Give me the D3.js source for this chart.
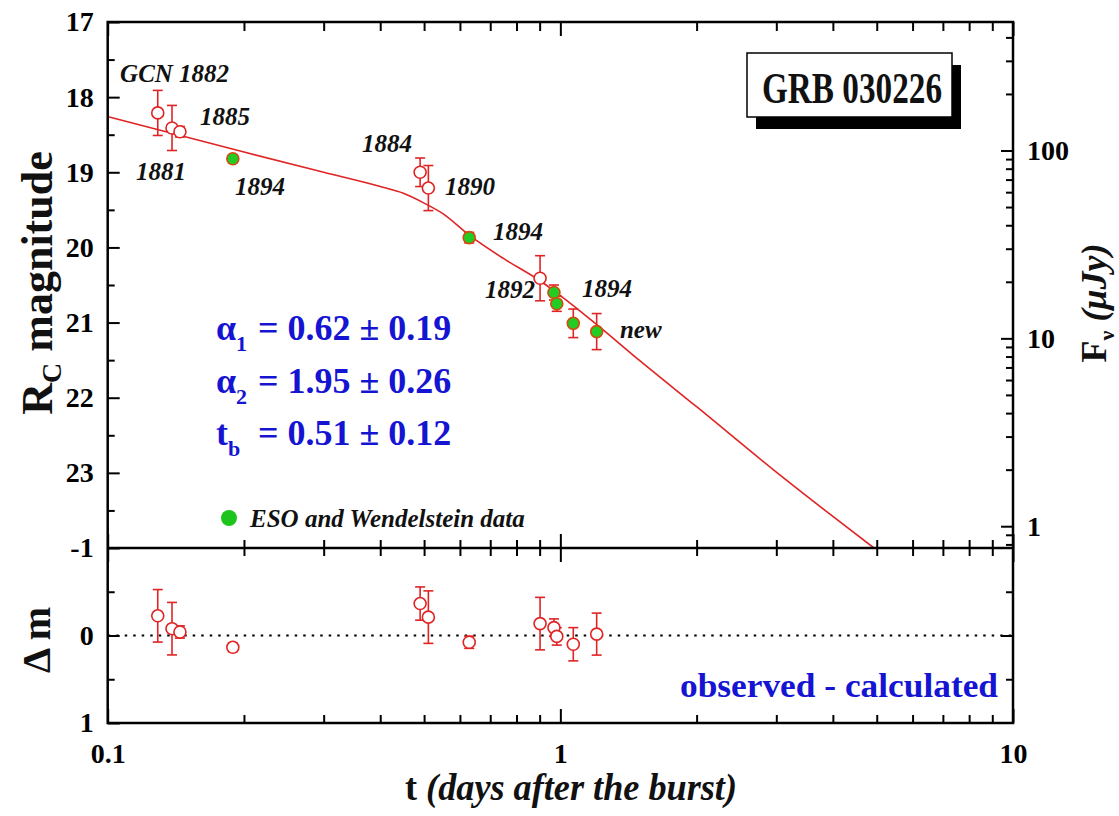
<!DOCTYPE html>
<html>
<head>
<meta charset="utf-8">
<script src="https://cdn.jsdelivr.net/npm/d3@7"></script>
<style>
  body { margin: 0; background: #fff; }
  svg { display: block; }
  text { font-family: 'Liberation Serif', 'Times New Roman', serif; font-weight: bold; }
</style>
</head>
<body>
<svg id="chart" width="1119" height="816"></svg>
<script>
// ---- Observations: time since burst (days), R_C magnitude, error ----
const tObs   = [0.129, 0.1387, 0.1444, 0.189, 0.490, 0.511, 0.629, 0.902, 0.968, 0.982, 1.068, 1.203];
const magObs = [18.21, 18.41, 18.46, 18.82, 19.00, 19.21, 19.87, 20.41, 20.60, 20.75, 21.01, 21.12];
const magErr = [0.30, 0.30, 0.07, 0.05, 0.19, 0.30, 0.07, 0.30, 0.10, 0.10, 0.19, 0.24];
// ESO / Wendelstein measurements are drawn filled green
const isEso  = [false, false, false, true, false, false, true, false, true, true, true, true];
// Residuals observed - calculated (mag)
const dMag   = [-0.225, -0.078, -0.04, 0.135, -0.365, -0.21, 0.077, -0.136, -0.09, 0.01, 0.10, -0.016];

// ---- Broken power-law fit, sampled ----
const fitT   = [0.1, 0.2, 0.3, 0.4, 0.45, 0.5, 0.55, 0.63, 0.75, 0.9, 1.0, 1.2, 1.5, 2.0, 3.0, 4.0, 4.93];
const fitMag = [18.26, 18.73, 19.00, 19.19, 19.28, 19.41, 19.55, 19.84, 20.15, 20.44, 20.64, 21.02, 21.51, 22.12, 22.99, 23.58, 24.0];

// ---- Source annotations (GCN circular numbers) ----
const noteText = ["GCN 1882", "1885", "1881", "1894", "1884", "1890", "1894", "1892", "1894", "new"];
const noteT    = [0.1065, 0.160, 0.1155, 0.191, 0.3646, 0.556, 0.710, 0.682, 1.116, 1.354];
const noteMag  = [17.80, 18.37, 19.10, 19.30, 18.73, 19.30, 19.90, 20.67, 20.66, 21.21];

// ---- Tick values and labels ----
const xMajor = [0.1, 1, 10];
const xMajorLabels = ["0.1", "1", "10"];
const xMinor = [0.2, 0.3, 0.4, 0.5, 0.6, 0.7, 0.8, 0.9, 2, 3, 4, 5, 6, 7, 8, 9];
const magMajor = [17, 18, 19, 20, 21, 22, 23];
const magMinor = [17.5, 18.5, 19.5, 20.5, 21.5, 22.5, 23.5];
const resMajor = [-1, 0, 1];
const resMajorLabels = ["-1", "0", "1"];
const resMinor = [-0.5, 0.5];
const fluxMajor = [1, 10, 100];
const fluxMajorLabels = ["1", "10", "100"];
const fluxMinor = [0.8, 0.9, 2, 3, 4, 5, 6, 7, 8, 9, 20, 30, 40, 50, 60, 70, 80, 90, 200, 300, 400];

const fitParams = [
  { sym: "\u03b1", sub: "1", val: "= 0.62 \u00b1 0.19" },
  { sym: "\u03b1", sub: "2", val: "= 1.95 \u00b1 0.26" },
  { sym: "t", sub: "b", val: "= 0.51 \u00b1 0.12" }
];

// ---- Layout ----
const L = 107.7, R = 1013, T = 22, MID = 548, B = 723;
const RED = "#e02424", GREEN = "#22cc22", BLUE = "#1414d2";
const ZP = 23.71; // R_C magnitude of 1 microJansky

const svg = d3.select("#chart");
svg.append("rect").attr("width", 1119).attr("height", 816).attr("fill", "#fff");

const x = d3.scaleLog().domain([0.1, 10]).range([L, R]);
const yMag = d3.scaleLinear().domain([17, 24]).range([T, MID]);
const yRes = d3.scaleLinear().domain([-1, 1]).range([MID, B]);
const yFlux = d3.scaleLog()
  .domain([Math.pow(10, (ZP - 17) / 2.5), Math.pow(10, (ZP - 24) / 2.5)])
  .range([T, MID]);

// Inward-pointing ticks, drawn with d3 axes
function ticks(axisGen, scale, vals, len, translate, labels, pad, fs) {
  const a = axisGen(scale).tickValues(vals).tickSizeInner(-len).tickSizeOuter(0)
    .tickPadding(pad || 0)
    .tickFormat(labels ? ((d, i) => labels[i]) : () => "");
  const g = svg.append("g").attr("transform", translate).call(a);
  g.select(".domain").remove();
  g.selectAll(".tick line").attr("stroke", "#000").attr("stroke-width", 2);
  g.selectAll(".tick text")
    .attr("fill", "#000")
    .style("font-family", "'Liberation Serif','Times New Roman',serif")
    .style("font-weight", "bold")
    .style("font-size", (fs || 28) + "px");
  return g;
}

// x ticks: top, both sides of the divider, bottom
ticks(d3.axisTop, x, xMajor, 14, `translate(0,${T})`);
ticks(d3.axisTop, x, xMinor, 9, `translate(0,${T})`);
ticks(d3.axisBottom, x, xMajor, 14, `translate(0,${MID})`);
ticks(d3.axisBottom, x, xMinor, 8, `translate(0,${MID})`);
ticks(d3.axisTop, x, xMajor, 14, `translate(0,${MID})`);
ticks(d3.axisTop, x, xMinor, 8, `translate(0,${MID})`);
ticks(d3.axisBottom, x, xMajor, 14, `translate(0,${B})`, xMajorLabels, 20, 28);
ticks(d3.axisBottom, x, xMinor, 8, `translate(0,${B})`);

// left magnitude axis
ticks(d3.axisLeft, yMag, magMajor, 12, `translate(${L},0)`, magMajor.map(String), 14, 28);
ticks(d3.axisLeft, yMag, magMinor, 7, `translate(${L},0)`);
// left residual axis
ticks(d3.axisLeft, yRes, resMajor, 12, `translate(${L},0)`, resMajorLabels, 14, 28);
ticks(d3.axisLeft, yRes, resMinor, 7, `translate(${L},0)`);
// right flux axis
ticks(d3.axisRight, yFlux, fluxMajor, 12, `translate(${R},0)`, fluxMajorLabels, 14, 28);
ticks(d3.axisRight, yFlux, fluxMinor, 7, `translate(${R},0)`);
// right residual axis
ticks(d3.axisRight, yRes, [0], 12, `translate(${R},0)`);
ticks(d3.axisRight, yRes, resMinor, 7, `translate(${R},0)`);

// zero line of residuals
svg.append("line")
  .attr("x1", L).attr("x2", R).attr("y1", yRes(0)).attr("y2", yRes(0))
  .attr("stroke", "#000").attr("stroke-width", 1.8).attr("stroke-dasharray", "2.5,6");

// fit curve
svg.append("clipPath").attr("id", "upper")
  .append("rect").attr("x", L).attr("y", T).attr("width", R - L).attr("height", MID - T);
svg.append("path")
  .datum(fitT.map((t, i) => [t, fitMag[i]]))
  .attr("clip-path", "url(#upper)")
  .attr("fill", "none").attr("stroke", RED).attr("stroke-width", 1.6)
  .attr("d", d3.line().x(d => x(d[0])).y(d => yMag(d[1])).curve(d3.curveMonotoneX));

// error bars with caps
function errorBars(yScale, vals) {
  const g = svg.append("g").attr("stroke", RED).attr("stroke-width", 1.6);
  tObs.forEach((t, i) => {
    const cx = x(t), y1 = yScale(vals[i] - magErr[i]), y2 = yScale(vals[i] + magErr[i]);
    g.append("line").attr("x1", cx).attr("x2", cx).attr("y1", y1).attr("y2", y2);
    g.append("line").attr("x1", cx - 5).attr("x2", cx + 5).attr("y1", y1).attr("y2", y1);
    g.append("line").attr("x1", cx - 5).attr("x2", cx + 5).attr("y1", y2).attr("y2", y2);
  });
}
errorBars(yMag, magObs);
errorBars(yRes, dMag);

// light curve markers
svg.append("g").selectAll("circle").data(tObs).join("circle")
  .attr("cx", d => x(d)).attr("cy", (d, i) => yMag(magObs[i])).attr("r", 6)
  .attr("fill", (d, i) => isEso[i] ? GREEN : "#fff")
  .attr("stroke", (d, i) => isEso[i] ? "#d44a10" : RED)
  .attr("stroke-width", 1.6);

// residual markers
svg.append("g").selectAll("circle").data(tObs).join("circle")
  .attr("cx", d => x(d)).attr("cy", (d, i) => yRes(dMag[i])).attr("r", 6)
  .attr("fill", "#fff").attr("stroke", RED).attr("stroke-width", 1.6);

// frames
svg.append("rect").attr("x", L).attr("y", T).attr("width", R - L).attr("height", B - T)
  .attr("fill", "none").attr("stroke", "#000").attr("stroke-width", 2.5);
svg.append("line").attr("x1", L).attr("x2", R).attr("y1", MID).attr("y2", MID)
  .attr("stroke", "#000").attr("stroke-width", 2.5);

// GCN annotations
svg.append("g").selectAll("text").data(noteText).join("text")
  .attr("x", (d, i) => x(noteT[i])).attr("y", (d, i) => yMag(noteMag[i]))
  .attr("font-size", 25).attr("font-style", "italic").attr("fill", "#111")
  .text(d => d);

// fit parameters
const pg = svg.append("g").attr("fill", BLUE);
fitParams.forEach((p, i) => {
  const by = 340 + i * 52.5;
  const t = pg.append("text").attr("x", 216).attr("y", by).attr("font-size", 36);
  t.append("tspan").text(p.sym);
  t.append("tspan").attr("dy", 11).attr("font-size", 22).text(p.sub);
  pg.append("text").attr("x", 258).attr("y", by).attr("font-size", 36).text(p.val);
});

// legend
svg.append("circle").attr("cx", 229).attr("cy", 518).attr("r", 8).attr("fill", "#1cc41c");
svg.append("text").attr("x", 250).attr("y", 527).attr("font-size", 25)
  .attr("font-style", "italic").attr("fill", "#111").text("ESO and Wendelstein data");

// GRB label box with drop shadow
svg.append("rect").attr("x", 756).attr("y", 65).attr("width", 205).attr("height", 64).attr("fill", "#000");
svg.append("rect").attr("x", 747).attr("y", 53).attr("width", 205).attr("height", 64)
  .attr("fill", "#fff").attr("stroke", "#000").attr("stroke-width", 1.5);
svg.append("text").attr("x", 762).attr("y", 103).attr("font-size", 44)
  .attr("textLength", 180).attr("lengthAdjust", "spacingAndGlyphs").attr("fill", "#111")
  .text("GRB 030226");

// residual panel caption
svg.append("text").attr("x", 680).attr("y", 697).attr("font-size", 33)
  .attr("textLength", 318).attr("lengthAdjust", "spacingAndGlyphs").attr("fill", BLUE)
  .text("observed - calculated");

// axis titles
const yt = svg.append("text").attr("transform", "translate(52,283) rotate(-90)")
  .attr("text-anchor", "middle").attr("font-size", 44).attr("fill", "#111");
yt.append("tspan").text("R");
yt.append("tspan").attr("dy", 9).attr("font-size", 28).text("C");
yt.append("tspan").attr("dy", -9).text(" magnitude");

svg.append("text").attr("transform", "translate(50,640) rotate(-90)")
  .attr("text-anchor", "middle").attr("font-size", 40).attr("fill", "#111").text("\u0394 m");

const ft = svg.append("text").attr("transform", "translate(1106,303) rotate(-90)")
  .attr("text-anchor", "middle").attr("font-size", 36).attr("fill", "#111");
ft.append("tspan").text("F");
ft.append("tspan").attr("dy", 8).attr("font-size", 22).text("\u03bd");
ft.append("tspan").attr("dy", -8).attr("font-style", "italic").text(" (\u03bcJy)");

const xt = svg.append("text").attr("x", 405).attr("y", 800).attr("font-size", 38)
  .attr("textLength", 332).attr("lengthAdjust", "spacingAndGlyphs").attr("fill", "#111");
xt.append("tspan").text("t ");
xt.append("tspan").attr("font-style", "italic").text("(days after the burst)");
</script>
</body>
</html>
